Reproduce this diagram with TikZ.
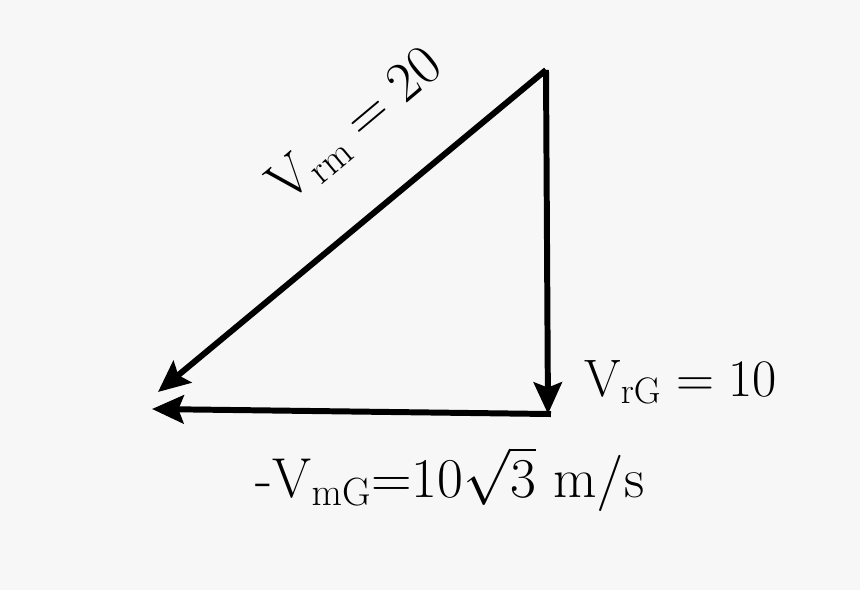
\RequirePackage{fix-cm}
\documentclass[tikz,border=0pt]{standalone}
\usepackage{amsmath}
\usetikzlibrary{arrows.meta}

\definecolor{paper}{HTML}{F7F7F7}

\tikzset{
    vec/.style={line width=3.4pt, -{Stealth[length=18pt,width=16pt,inset=3pt]}},
    lbl/.style={font=\fontsize{32}{38}\selectfont, inner sep=0pt}
}

\begin{document}
\begin{tikzpicture}[x=0.02cm, y=-0.02cm]
        \fill[paper] (0, 0) rectangle (860, 590);
        \useasboundingbox (0, 0) rectangle (860, 590);
        \coordinate (T) at (546, 70);
        \coordinate (R) at (548, 414);
        \coordinate (L) at (152, 409);
        \coordinate (H) at (158, 392);
        \draw[vec] (T) -- (R);
        \draw[vec] (T) -- (H);
        \draw[vec, shorten <=-1.7pt] (R) -- (L);
        \node[lbl, rotate=40] (vrm) at (356, 126) {$\mathrm{V}_{\mathrm{rm}} = 20$};
        \node[lbl, anchor=west, font=\fontsize{30}{36}\selectfont] (vrg) at (584, 382) {$\mathrm{V}_{\mathrm{rG}} = 10$};
        \node[lbl] (vmg) at (450, 479) {$\text{-}\mathrm{V}_{\mathrm{mG}}{=}10\sqrt{3}\ \mathrm{m/s}$};
    \end{tikzpicture}
\end{document}
